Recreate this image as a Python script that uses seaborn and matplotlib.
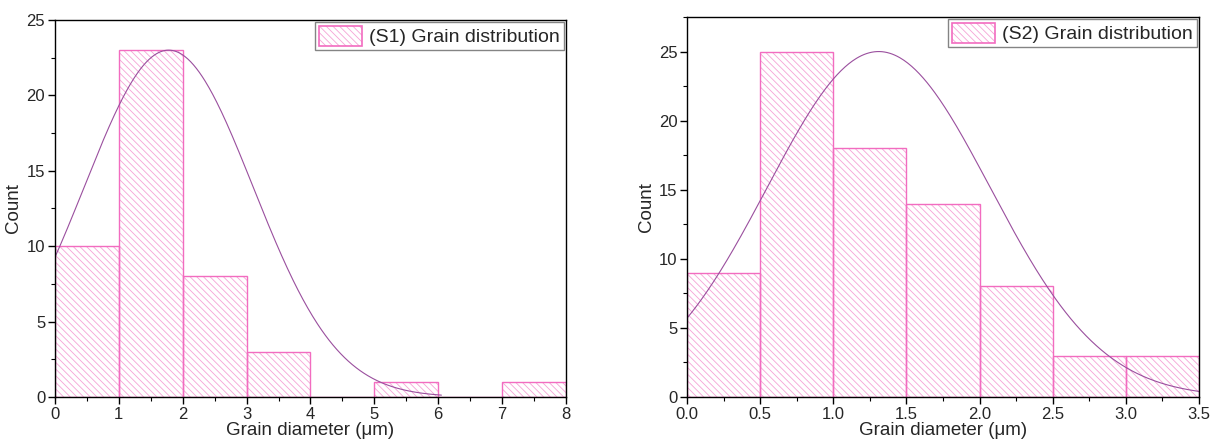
import numpy as np
import pandas as pd
import matplotlib
matplotlib.use("Agg")
import matplotlib.pyplot as plt
from matplotlib.patches import Patch
from matplotlib.ticker import MultipleLocator, FormatStrFormatter
import seaborn as sns

# ---- data ----
s1_edges = [0, 1, 2, 3, 4, 5, 6, 7, 8]
s1_counts = [10, 23, 8, 3, 0, 1, 0, 1]
s1_fit_peak, s1_fit_mu, s1_fit_sigma, s1_fit_xmax = 23.0, 1.78, 1.32, 6.05
s1_label = "(S1) Grain distribution"

s2_edges = [0.0, 0.5, 1.0, 1.5, 2.0, 2.5, 3.0, 3.5]
s2_counts = [9, 25, 18, 14, 8, 3, 3]
s2_fit_peak, s2_fit_mu, s2_fit_sigma, s2_fit_xmax = 25.0, 1.31, 0.762, 3.5
s2_label = "(S2) Grain distribution"

xlabel = "Grain diameter (\u03bcm)"
ylabel = "Count"

sns.set_theme(style="ticks")
plt.rcParams["font.family"] = ["Liberation Sans", "DejaVu Sans"]
plt.rcParams["hatch.linewidth"] = 0.6
plt.rcParams["axes.linewidth"] = 1.0

PINK = "#f26cc0"
LIGHTPINK = "#f5a3d6"
PURPLE = "#9a4f9e"
HATCH = "\\\\\\\\\\"

fig = plt.figure(figsize=(12.13, 4.44), dpi=100)
ax1 = fig.add_axes([0.0453, 0.1059, 0.4213, 0.8491])
ax2 = fig.add_axes([0.5664, 0.1059, 0.4221, 0.8558])


def draw(ax, edges, counts, peak, mu, sigma, xmax, label, xlim, ylim, xmaj, xmin, xfmt):
    e = np.asarray(edges, float)
    df = pd.DataFrame({"x": (e[:-1] + e[1:]) / 2, "w": np.asarray(counts, float)})
    # hatched fill (light pink hatch)
    sns.histplot(data=df, x="x", weights="w", bins=list(edges), ax=ax,
                 fill=True, facecolor="white", edgecolor=LIGHTPINK,
                 linewidth=0.0, hatch=HATCH, alpha=1.0)
    # outline
    sns.histplot(data=df, x="x", weights="w", bins=list(edges), ax=ax,
                 fill=True, facecolor="none", edgecolor=PINK,
                 linewidth=1.0, alpha=1.0)
    xs = np.linspace(e[0], xmax, 400)
    ys = peak * np.exp(-((xs - mu) ** 2) / (2 * sigma ** 2))
    sns.lineplot(x=xs, y=ys, ax=ax, color=PURPLE, linewidth=0.8)
    ax.set_xlim(*xlim)
    ax.set_ylim(*ylim)
    ax.xaxis.set_major_locator(MultipleLocator(xmaj))
    ax.xaxis.set_minor_locator(MultipleLocator(xmin))
    ax.yaxis.set_major_locator(MultipleLocator(5))
    ax.yaxis.set_minor_locator(MultipleLocator(2.5))
    if xfmt:
        ax.xaxis.set_major_formatter(FormatStrFormatter(xfmt))
    ax.tick_params(which="major", direction="out", length=5, width=1,
                   labelsize=12, color="black", pad=2)
    ax.tick_params(which="minor", direction="out", length=3, width=0.8, color="black")
    ax.tick_params(top=False, right=False)
    for s in ax.spines.values():
        s.set_visible(True)
        s.set_color("black")
    ax.set_xlabel(xlabel, fontsize=13.5, labelpad=0)
    ax.set_ylabel(ylabel, fontsize=13.5, labelpad=3)
    handle = Patch(facecolor="white", edgecolor=LIGHTPINK, hatch=HATCH, linewidth=0)
    outline = Patch(facecolor="none", edgecolor=PINK, linewidth=1.2)
    leg = ax.legend([(handle, outline)], [label], loc="upper right", fontsize=14,
                    frameon=True, fancybox=False, borderpad=0.2,
                    handlelength=2.2, handleheight=1.2, handletextpad=0.4,
                    borderaxespad=0.1)
    leg.get_frame().set_edgecolor("#666666")
    leg.get_frame().set_linewidth(1.0)


draw(ax1, s1_edges, s1_counts, s1_fit_peak, s1_fit_mu, s1_fit_sigma, s1_fit_xmax,
     s1_label, (0, 8), (0, 25), 1, 0.5, None)
draw(ax2, s2_edges, s2_counts, s2_fit_peak, s2_fit_mu, s2_fit_sigma, s2_fit_xmax,
     s2_label, (0, 3.5), (0, 27.5), 0.5, 0.25, "%.1f")

fig.savefig("out.png", dpi=100)
